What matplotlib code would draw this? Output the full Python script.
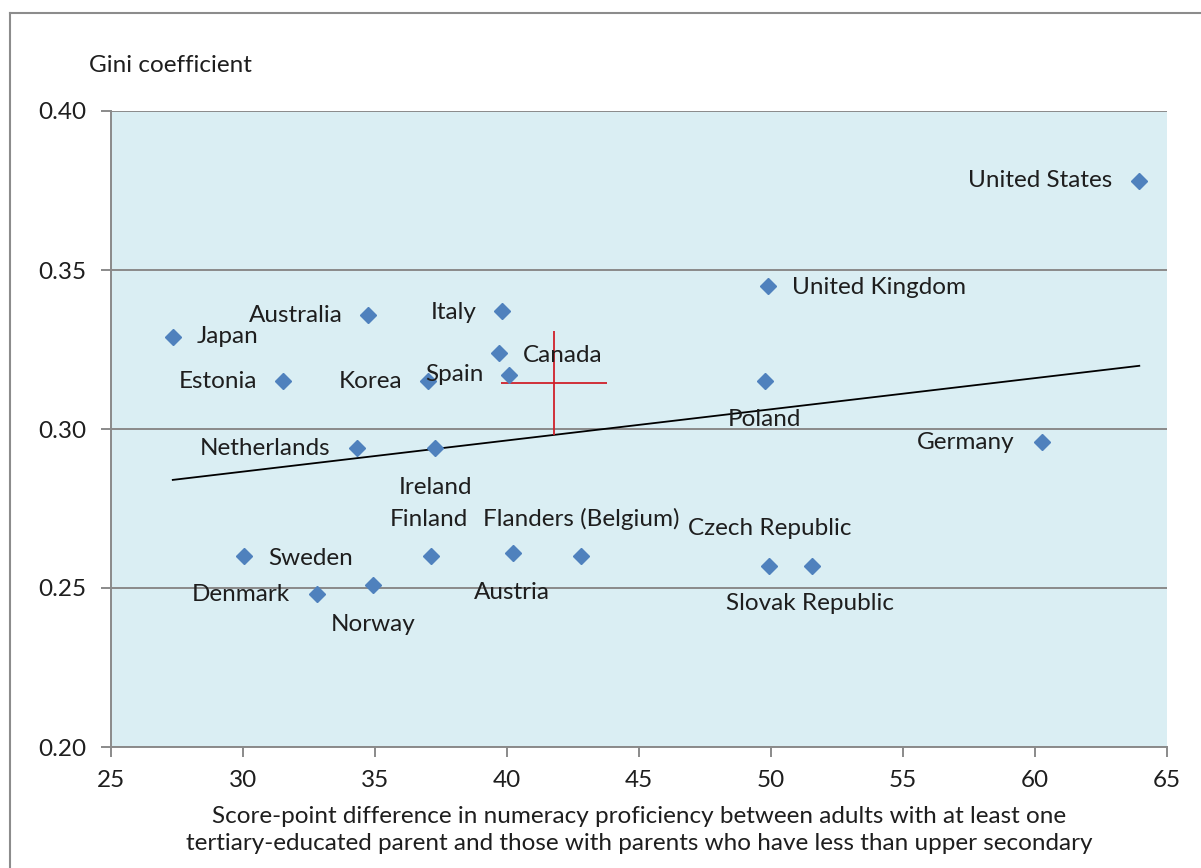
import matplotlib.pyplot as plt
from matplotlib.lines import Line2D
import numpy as np

plt.rcParams['font.family'] = ['Lato', 'DejaVu Sans']

# data
countries = ['United States', 'United Kingdom', 'Italy', 'Australia', 'Japan',
             'Canada', 'Spain', 'Korea', 'Estonia', 'Poland', 'Netherlands',
             'Ireland', 'Germany', 'Finland', 'Flanders (Belgium)', 'Austria',
             'Sweden', 'Denmark', 'Norway', 'Czech Republic', 'Slovak Republic']
score_gap = [63.95, 49.90, 39.82, 34.75, 27.34,
             39.71, 40.08, 37.02, 31.53, 49.77, 34.31,
             37.27, 60.25, 37.12, 42.80, 40.24,
             30.04, 32.79, 34.91, 49.94, 51.54]
gini = [0.378, 0.345, 0.337, 0.336, 0.329,
        0.324, 0.317, 0.315, 0.315, 0.315, 0.294,
        0.294, 0.296, 0.260, 0.260, 0.261,
        0.260, 0.248, 0.251, 0.257, 0.257]

# average marker (red cross)
cross_x = 41.78
cross_y = 0.3144
cross_xerr = 2.02
cross_yerr = 0.0164

x_ticks = [25, 30, 35, 40, 45, 50, 55, 60, 65]
y_ticks = [0.20, 0.25, 0.30, 0.35, 0.40]

# label placement: (ha, dx px, dy px)
label_pos = {
    'United States': ('right', -27, 0),
    'United Kingdom': ('left', 24, -2),
    'Italy': ('right', -26, -1),
    'Australia': ('right', -26, -1),
    'Japan': ('left', 24, 0),
    'Canada': ('left', 24, -3),
    'Spain': ('right', -26, 0),
    'Korea': ('right', -26, 0),
    'Estonia': ('right', -26, 0),
    'Poland': ('center', 0, -38),
    'Netherlands': ('right', -26, 0),
    'Ireland': ('center', 1, -39),
    'Germany': ('right', -27, -1),
    'Finland': ('center', -2, 37),
    'Flanders (Belgium)': ('center', 0, 37),
    'Austria': ('center', -1, -39),
    'Sweden': ('left', 24, -2),
    'Denmark': ('right', -27, 0),
    'Norway': ('center', 1, -40),
    'Czech Republic': ('center', 0, 37),
    'Slovak Republic': ('center', -2, -38),
}

text_col = '#1e1e1e'
grid_col = '#8a8a8a'

fig = plt.figure(figsize=(12.01, 8.68), dpi=100)
ax = fig.add_axes([111 / 1201, 1 - 747 / 868, 1056 / 1201, 636 / 868])
ax.set_facecolor('#DAEEF3')

ax.set_xlim(25, 65)
ax.set_ylim(0.20, 0.40)
ax.set_xticks(x_ticks)
ax.set_yticks(y_ticks)
ax.set_yticklabels([f'{v:.2f}' for v in y_ticks])
ax.yaxis.grid(True, color=grid_col, linewidth=1.4)
ax.set_axisbelow(True)

for s in ['top', 'right']:
    ax.spines[s].set_visible(False)
for s in ['left', 'bottom']:
    ax.spines[s].set_color(grid_col)
    ax.spines[s].set_linewidth(1.4)
ax.tick_params(axis='both', direction='out', length=7, width=1.4,
               color=grid_col, labelsize=17.5, labelcolor=text_col)
ax.tick_params(axis='x', pad=9.5)
ax.tick_params(axis='y', pad=10.5)

# trend line
coef = np.polyfit(score_gap, gini, 1)
xs = np.array([min(score_gap), max(score_gap)])
ax.plot(xs, np.polyval(coef, xs), color='black', linewidth=1.3, zorder=3)

ax.errorbar(cross_x, cross_y, xerr=cross_xerr, yerr=cross_yerr, fmt='none',
            ecolor='#d0202a', elinewidth=1.3, capsize=0, zorder=3)

ax.plot(score_gap, gini, linestyle='none', marker='D', markersize=8.5,
        color='#4F81BD', zorder=4)

for name, x, y in zip(countries, score_gap, gini):
    ha, dx, dy = label_pos[name]
    ax.annotate(name, (x, y), xytext=(dx, dy), textcoords='offset pixels',
                ha=ha, va='center', fontsize=17.5, color=text_col, zorder=5)

fig.text(89 / 1201, 1 - 66 / 868, 'Gini coefficient', ha='left', va='center',
         fontsize=17.5, color=text_col)
fig.text(639 / 1201, 1 - 830 / 868,
         'Score-point difference in numeracy proficiency between adults with at least one\n'
         'tertiary-educated parent and those with parents who have less than upper secondary',
         ha='center', va='center', fontsize=17.5, color=text_col, linespacing=1.3)

# outer frame
fig.add_artist(Line2D([9.5 / 1201, 1], [1 - 13 / 868, 1 - 13 / 868],
                      color='#8c8c8c', linewidth=1.5))
fig.add_artist(Line2D([9.5 / 1201, 9.5 / 1201], [0, 1 - 13 / 868],
                      color='#8c8c8c', linewidth=1.5))

fig.savefig('out.png', dpi=100)
